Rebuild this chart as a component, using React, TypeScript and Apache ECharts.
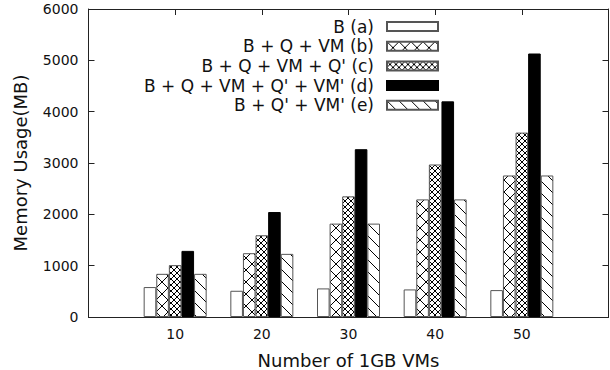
import React, { useEffect, useRef } from "react";
import * as echarts from "echarts";

const categories = [10, 20, 30, 40, 50];
const seriesNames = [
  "B (a)",
  "B + Q + VM (b)",
  "B + Q + VM + Q' (c)",
  "B + Q + VM + Q' + VM' (d)",
  "B + Q' + VM' (e)",
];
const valuesA = [583, 511, 557, 537, 524];
const valuesB = [841, 1243, 1819, 2291, 2757];
const valuesC = [1010, 1592, 2350, 2971, 3592];
const valuesD = [1288, 2045, 3269, 4201, 5133];
const valuesE = [841, 1230, 1819, 2291, 2757];
const yTicks = [0, 1000, 2000, 3000, 4000, 5000, 6000];

function makePattern(kind: string): any {
  const c = document.createElement("canvas");
  const s = kind === "c" ? 6 : 12;
  c.width = s;
  c.height = s;
  const ctx = c.getContext("2d")!;
  ctx.fillStyle = "#ffffff";
  ctx.fillRect(0, 0, s, s);
  ctx.strokeStyle = "#000000";
  ctx.lineWidth = 1;
  ctx.beginPath();
  if (kind === "b" || kind === "c") {
    ctx.moveTo(0, 0);
    ctx.lineTo(s, s);
    ctx.moveTo(s, 0);
    ctx.lineTo(0, s);
  }
  if (kind === "e") {
    ctx.moveTo(-1, -1);
    ctx.lineTo(s + 1, s + 1);
  }
  ctx.stroke();
  return { image: c, repeat: "repeat" };
}

export default function App() {
  const ref = useRef<HTMLDivElement>(null);
  useEffect(() => {
    const chart = echarts.init(ref.current!, null, { renderer: "svg" });
    const font = "DejaVu Sans";
    const allValues = [valuesA, valuesB, valuesC, valuesD, valuesE];
    const fills: any[] = [
      "#ffffff",
      makePattern("b"),
      makePattern("c"),
      "#000000",
      makePattern("e"),
    ];
    const series = allValues.map((vals, i) => ({
      name: seriesNames[i],
      type: "bar",
      barWidth: 12.6,
      barGap: "0%",
      data: categories.map((c, j) => [c, vals[j]]),
      itemStyle: {
        color: fills[i],
        borderColor: i === 3 ? "#000000" : "#555555",
        borderWidth: 1,
      },
    }));
    const xCommon = {
      type: "value",
      min: 0,
      max: 60,
      interval: 10,
      splitLine: { show: false },
      axisLine: { show: true, onZero: false, lineStyle: { color: "#222", width: 1 } },
      axisTick: {
        show: true,
        inside: true,
        length: 6,
        lineStyle: { color: "#222" },
      },
    };
    const yCommon = {
      type: "value",
      min: 0,
      max: 6000,
      interval: 1000,
      splitLine: { show: false },
      axisLine: { show: true, onZero: false, lineStyle: { color: "#222", width: 1 } },
      axisTick: {
        show: true,
        inside: true,
        length: 6,
        lineStyle: { color: "#222" },
      },
    };
    chart.setOption({
      animation: false,
      backgroundColor: "#ffffff",
      grid: {
        left: 88.5,
        right: 1.5,
        top: 9,
        bottom: 53,
        containLabel: false,
        outerBoundsMode: "none",
      },
      legend: {
        orient: "vertical",
        right: 171,
        top: 18,
        padding: 0,
        align: "right",
        itemWidth: 51,
        itemHeight: 9,
        itemGap: 2.7,
        icon: "rect",
        selectedMode: false,
        data: seriesNames,
        textStyle: {
          fontFamily: font,
          fontSize: 17,
          lineHeight: 17,
          color: "#111",
          padding: [0, 8, 0, 0],
        },
      },
      xAxis: [
        {
          ...xCommon,
          position: "bottom",
          name: "Number of 1GB VMs",
          nameLocation: "middle",
          nameGap: 34,
          nameTextStyle: { fontFamily: font, fontSize: 18, color: "#111" },
          axisLabel: {
            fontFamily: font,
            fontSize: 14,
            color: "#111",
            margin: 10,
            formatter: (v: number) =>
              categories.indexOf(v) >= 0 ? String(v) : "",
          },
        },
        {
          ...xCommon,
          position: "top",
          axisLabel: { show: false },
        },
      ],
      yAxis: [
        {
          ...yCommon,
          position: "left",
          name: "Memory Usage(MB)",
          nameLocation: "middle",
          nameGap: 59,
          nameTextStyle: { fontFamily: font, fontSize: 18, color: "#111" },
          axisLabel: {
            fontFamily: font,
            fontSize: 14,
            color: "#111",
            margin: 10,
            formatter: (v: number) =>
              yTicks.indexOf(v) >= 0 ? String(v) : "",
          },
        },
        {
          ...yCommon,
          position: "right",
          axisLabel: { show: false },
        },
      ],
      series,
    });
    return () => chart.dispose();
  }, []);
  return <div ref={ref} style={{ width: 610, height: 370, position: "absolute", left: 0, top: 0 }} />;
}
